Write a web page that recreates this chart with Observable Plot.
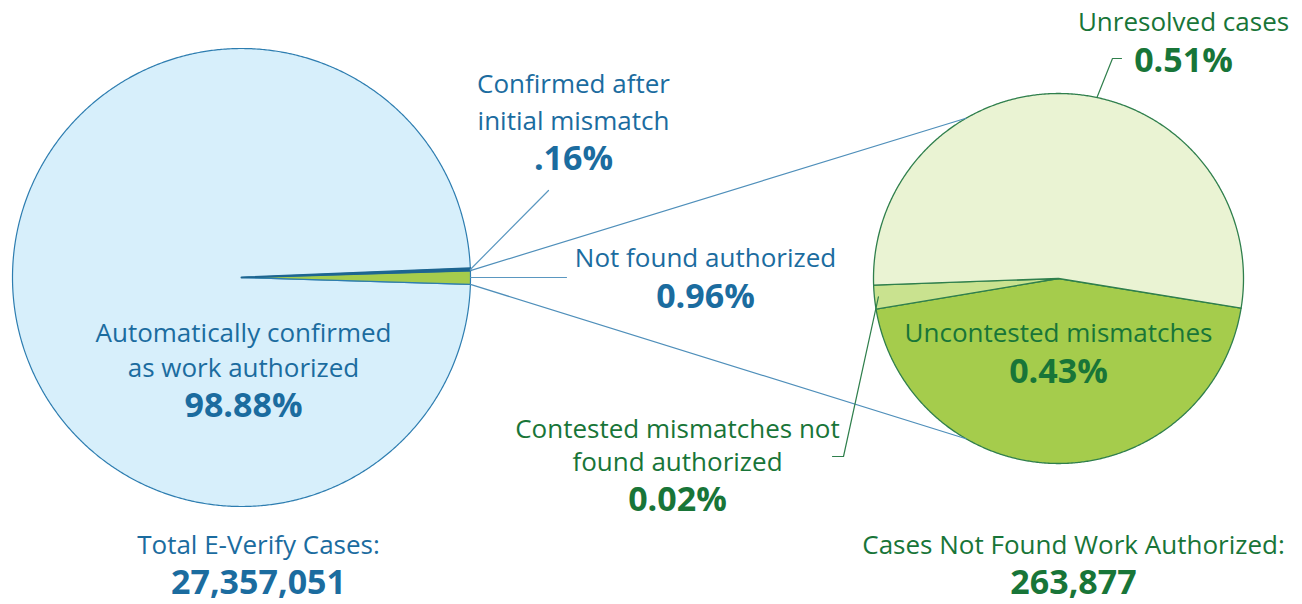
<!DOCTYPE html>
<html>
<head>
<meta charset="utf-8">
<script src="https://cdn.jsdelivr.net/npm/d3@7"></script>
<script src="https://cdn.jsdelivr.net/npm/@observablehq/plot@0.6"></script>
<style>
  html, body { margin: 0; padding: 0; background: #ffffff; }
  #chart { width: 1302px; height: 604px; }
</style>
</head>
<body>
<div id="chart"></div>
<script>
// ---------- DATA ----------
const leftCategories = ["Confirmed after initial mismatch", "Not found authorized", "Automatically confirmed as work authorized"];
const leftValues = [0.16, 0.96, 98.88];
const leftValueLabels = [".16%", "0.96%", "98.88%"];

const rightCategories = ["Uncontested mismatches", "Contested mismatches not found authorized", "Unresolved cases"];
const rightValues = [0.43, 0.02, 0.51];
const rightValueLabels = ["0.43%", "0.02%", "0.51%"];

const totalLabels = ["Total E-Verify Cases:", "Cases Not Found Work Authorized:"];
const totalValues = [27357051, 263877];

// ---------- STYLE / LAYOUT ----------
const W = 1302, H = 604;
const blueText = "#1b6c9f", greenText = "#187538";
const leftFills = ["#1d6590", "#a5cc4c", "#d7effb"];
const leftStrokes = ["#1d6590", "#2d7db0", "#2d7db0"];
const rightFills = ["#a5cc4c", "#c9e28f", "#eaf3d3"];
const rightStroke = "#2f7f4c";
const FONT = "Open Sans, sans-serif";
const REG = 26, BOLD = 34;

const L = {cx: 241, cy: 277, r: 229, start: (90 - 2.3) * Math.PI / 180};
const R = {cx: 1058, cy: 278, r: 185, start: (99.2) * Math.PI / 180};

function pieArcs(values, start) {
  return d3.pie().sort(null).startAngle(start).endAngle(start + 2 * Math.PI)(values);
}
function pt(c, a, r = c.r) { return [c.cx + r * Math.sin(a), c.cy - r * Math.cos(a)]; }
function slicePoly(c, a0, a1) {
  const pts = [[c.cx, c.cy]];
  const n = Math.max(2, Math.ceil((a1 - a0) / (0.4 * Math.PI / 180)));
  for (let i = 0; i <= n; i++) pts.push(pt(c, a0 + (a1 - a0) * i / n));
  return pts.map(([x, y]) => ({x, y}));
}

const leftArcs = pieArcs(leftValues, L.start);
const rightArcs = pieArcs(rightValues, R.start);

const marks = [];
// left pie: big slice first, then thin ones on top
[2, 1, 0].forEach(i => {
  const a = leftArcs[i];
  marks.push(Plot.line(slicePoly(L, a.startAngle, a.endAngle), {
    x: "x", y: "y", curve: "linear-closed", fill: leftFills[i], stroke: leftStrokes[i],
    strokeWidth: i === 0 ? 2 : 1.2, strokeLinejoin: "round"
  }));
});
// right pie
rightArcs.forEach((a, i) => {
  marks.push(Plot.line(slicePoly(R, a.startAngle, a.endAngle), {
    x: "x", y: "y", curve: "linear-closed", fill: rightFills[i], stroke: rightStroke, strokeWidth: 1.3, strokeLinejoin: "round"
  }));
});

// connector lines from "Not found authorized" slice to right pie
const nf = leftArcs[1];
const conn = [
  [pt(L, nf.startAngle), pt(R, -30 * Math.PI / 180)],
  [pt(L, nf.endAngle), pt(R, 210 * Math.PI / 180)]
];
conn.forEach(seg => marks.push(Plot.line(seg.map(([x, y]) => ({x, y})), {x: "x", y: "y", stroke: "#4f8fba", strokeWidth: 1.2})));

// leader lines
const mid = a => (a.startAngle + a.endAngle) / 2;
const leaders = [
  {pts: [pt(L, mid(leftArcs[0])), [548, 190]], color: "#5a97c0"},
  {pts: [pt(L, mid(leftArcs[1])), [566, pt(L, mid(leftArcs[1]))[1]]], color: "#5a97c0"},
  {pts: [pt(R, mid(rightArcs[2]) + 0.147), [1112, 58], [1121, 58]], color: rightStroke},
  {pts: [pt(R, mid(rightArcs[1]), R.r - 4), [843, 456], [832, 456]], color: rightStroke}
];
leaders.forEach(l => marks.push(Plot.line(l.pts.map(([x, y]) => ({x, y})), {x: "x", y: "y", stroke: l.color, strokeWidth: 1.2})));

// text labels
const fmt = d3.format(",");
function words2(s, n) { const w = s.split(" "); return [w.slice(0, n).join(" "), w.slice(n).join(" ")]; }
const labelRows = [];
function addLabel(lines, valueText, x, y, color, lh = 36, vgap = 38) {
  lines.forEach((t, i) => labelRows.push({text: t, x, y: y + i * lh, size: REG, weight: 400, color}));
  labelRows.push({text: valueText, x, y: y + (lines.length - 1) * lh + vgap, size: BOLD, weight: 700, color});
}
addLabel(words2(leftCategories[0], 2), leftValueLabels[0], 573, 84, blueText, 37, 38);
addLabel([leftCategories[1]], leftValueLabels[1], 705, 258, blueText, 36, 39);
addLabel(words2(leftCategories[2], 2), leftValueLabels[2], 243, 333, blueText, 35, 38);
addLabel([rightCategories[2]], rightValueLabels[2], 1183, 22, greenText, 36, 39);
addLabel([rightCategories[0]], rightValueLabels[0], 1058, 333, greenText, 36, 39);
addLabel(words2(rightCategories[1], 3), rightValueLabels[1], 677, 429, greenText, 33, 38);
addLabel([totalLabels[0]], fmt(totalValues[0]), 258, 545, blueText, 36, 38);
addLabel([totalLabels[1]], fmt(totalValues[1]), 1073, 545, greenText, 36, 38);

[400, 700].forEach(wt => {
  [REG, BOLD].forEach(sz => {
    const rows = labelRows.filter(d => d.weight === wt && d.size === sz);
    if (rows.length) marks.push(Plot.text(rows, {
      x: "x", y: "y", text: "text", fill: "color", fontSize: sz, fontWeight: wt,
      textAnchor: "middle", lineAnchor: "middle", fontFamily: FONT
    }));
  });
});

const chart = Plot.plot({
  width: W, height: H,
  margin: 0,
  x: {type: "identity", axis: null},
  y: {type: "identity", axis: null},
  color: {type: "identity"},
  style: {background: "#ffffff", fontFamily: FONT},
  marks
});
document.getElementById("chart").appendChild(chart);
</script>
</body>
</html>
